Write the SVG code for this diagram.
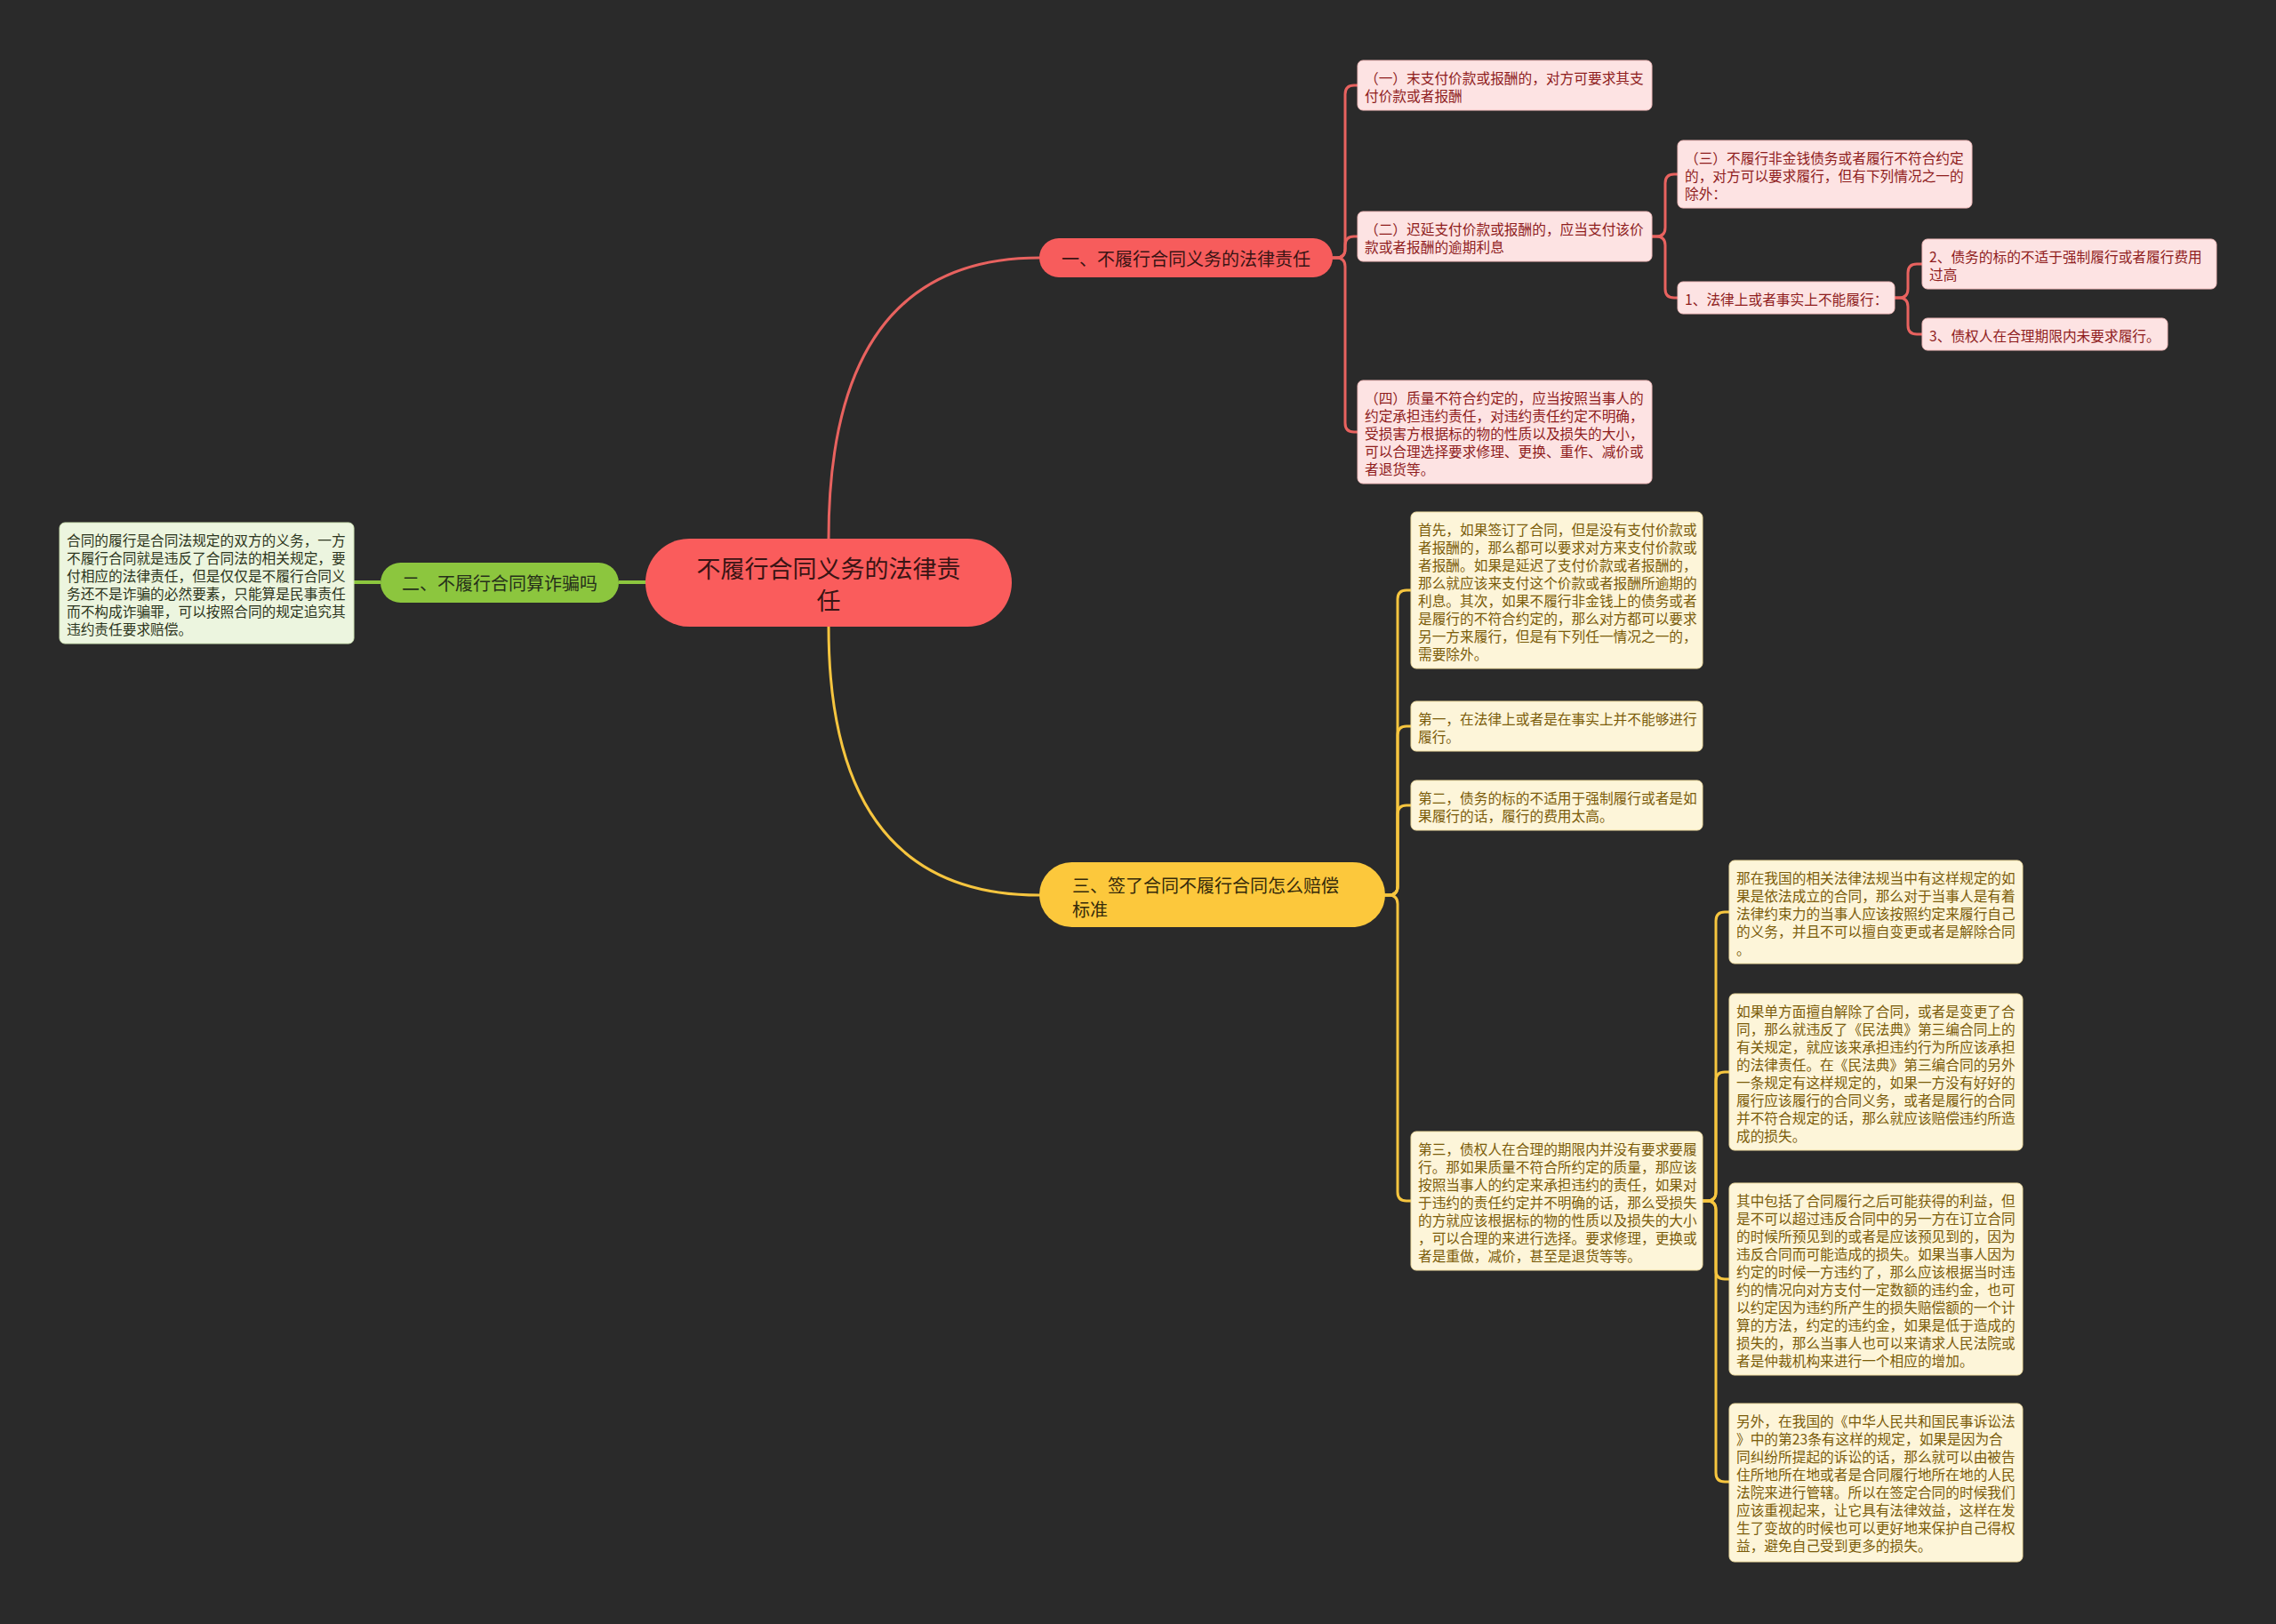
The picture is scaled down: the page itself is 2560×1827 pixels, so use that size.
<svg xmlns="http://www.w3.org/2000/svg" width="2560" height="1827" viewBox="0 0 2560 1827">
<style>
text{font-family:"Noto Sans CJK SC","Noto Sans",sans-serif;dominant-baseline:central}
.leaf{font-size:15.7px}
.rbox{fill:#fde3e3;stroke:#f3bcbc;stroke-width:1}
.rt{fill:#8f1d1d}
.ybox{fill:#fdf5d9;stroke:#efdca0;stroke-width:1}
.yt{fill:#7b5c0a}
.gbox{fill:#ecf5df;stroke:#cfe3b5;stroke-width:1}
.gt{fill:#2c3520}
.cr{fill:none;stroke:#e8625f;stroke-width:3;stroke-linecap:round}
.cy{fill:none;stroke:#f6c53f;stroke-width:3;stroke-linecap:round}
.cg{fill:none;stroke:#8cc63e;stroke-width:4}
.main{font-size:20px}
</style>
<rect x="0" y="0" width="2560" height="1827" fill="#2a2a2a"/>
<g id="connectors">
<path class="cr" d="M932 606 Q932 290 1169 290"/>
<path class="cy" d="M932 705 Q932 1007 1169 1007"/>
<path class="cg" d="M727 655 H696"/>
<path class="cg" d="M428 655 H398"/>
<path class="cr" d="M1499 290 H1503 Q1513 290 1513 280 V106 Q1513 96 1523 96 H1527"/>
<path class="cr" d="M1499 290 H1503 Q1513 290 1513 280 V276 Q1513 266 1523 266 H1527"/>
<path class="cr" d="M1499 290 H1503 Q1513 290 1513 300 V476 Q1513 486 1523 486 H1527"/>
<path class="cr" d="M1858 266 H1863 Q1873 266 1873 256 V206 Q1873 196 1883 196 H1887"/>
<path class="cr" d="M1858 266 H1863 Q1873 266 1873 276 V325 Q1873 335 1883 335 H1887"/>
<path class="cr" d="M2131 335 H2136 Q2146 335 2146 325 V307 Q2146 297 2156 297 H2162"/>
<path class="cr" d="M2131 335 H2136 Q2146 335 2146 345 V366 Q2146 376 2156 376 H2162"/>
<path class="cy" d="M1558 1007 H1562 Q1572 1007 1572 997 V674 Q1572 664 1582 664 H1587"/>
<path class="cy" d="M1558 1007 H1562 Q1572 1007 1572 997 V827 Q1572 817 1582 817 H1587"/>
<path class="cy" d="M1558 1007 H1562 Q1572 1007 1572 997 V916 Q1572 906 1582 906 H1587"/>
<path class="cy" d="M1558 1007 H1562 Q1572 1007 1572 1017 V1341 Q1572 1351 1582 1351 H1587"/>
<path class="cy" d="M1915 1351 H1920 Q1930 1351 1930 1341 V1036 Q1930 1026 1940 1026 H1945"/>
<path class="cy" d="M1915 1351 H1920 Q1930 1351 1930 1341 V1216 Q1930 1206 1940 1206 H1945"/>
<path class="cy" d="M1915 1351 H1920 Q1930 1351 1930 1361 V1429 Q1930 1439 1940 1439 H1945"/>
<path class="cy" d="M1915 1351 H1920 Q1930 1351 1930 1361 V1657 Q1930 1667 1940 1667 H1945"/>
</g>
<g id="root">
<rect x="726" y="606" width="412" height="99" rx="49.5" fill="#fa5c5c"/>
<text x="932" y="638" font-size="27" text-anchor="middle" fill="#3a1414">不履行合同义务的法律责</text>
<text x="932" y="674" font-size="27" text-anchor="middle" fill="#3a1414">任</text>
</g>
<g id="b1">
<rect x="1169" y="268" width="330" height="44" rx="22" fill="#f75c5c"/>
<text class="main" x="1334" y="290" text-anchor="middle" fill="#3a1414">一、不履行合同义务的法律责任</text>
</g>
<g id="b2">
<rect x="428" y="633" width="268" height="45" rx="22.5" fill="#8cc63e"/>
<text class="main" x="562" y="655.5" text-anchor="middle" fill="#26301a">二、不履行合同算诈骗吗</text>
</g>
<g id="b3">
<rect x="1169" y="970" width="389" height="73" rx="36.5" fill="#fcc83c"/>
<text class="main" x="1206" y="995" fill="#352a0a">三、签了合同不履行合同怎么赔偿</text>
<text class="main" x="1206" y="1022" fill="#352a0a">标准</text>
</g>
<g id="r1">
<rect class="rbox" x="1527" y="68" width="331" height="56" rx="6"/>
<text class="leaf rt" x="1535"><tspan x="1535" y="87">（一）末支付价款或报酬的，对方可要求其支</tspan><tspan x="1535" y="107">付价款或者报酬</tspan></text>
</g>
<g id="r2">
<rect class="rbox" x="1527" y="238" width="331" height="56" rx="6"/>
<text class="leaf rt"><tspan x="1535" y="257">（二）迟延支付价款或报酬的，应当支付该价</tspan><tspan x="1535" y="277">款或者报酬的逾期利息</tspan></text>
</g>
<g id="r4">
<rect class="rbox" x="1527" y="428" width="331" height="116" rx="6"/>
<text class="leaf rt"><tspan x="1535" y="447">（四）质量不符合约定的，应当按照当事人的</tspan><tspan x="1535" y="467">约定承担违约责任，对违约责任约定不明确，</tspan><tspan x="1535" y="487">受损害方根据标的物的性质以及损失的大小，</tspan><tspan x="1535" y="507">可以合理选择要求修理、更换、重作、减价或</tspan><tspan x="1535" y="527">者退货等。</tspan></text>
</g>
<g id="r3">
<rect class="rbox" x="1887" y="158" width="331" height="76" rx="6"/>
<text class="leaf rt"><tspan x="1895" y="177">（三）不履行非金钱债务或者履行不符合约定</tspan><tspan x="1895" y="197">的，对方可以要求履行，但有下列情况之一的</tspan><tspan x="1895" y="217">除外：</tspan></text>
</g>
<g id="r3a">
<rect class="rbox" x="1887" y="317" width="244" height="36" rx="6"/>
<text class="leaf rt" x="1895" y="336">1、法律上或者事实上不能履行：</text>
</g>
<g id="r3b">
<rect class="rbox" x="2162" y="269" width="331" height="56" rx="6"/>
<text class="leaf rt"><tspan x="2170" y="288">2、债务的标的不适于强制履行或者履行费用</tspan><tspan x="2170" y="308">过高</tspan></text>
</g>
<g id="r3c">
<rect class="rbox" x="2162" y="358" width="276" height="36" rx="6"/>
<text class="leaf rt" x="2170" y="377">3、债权人在合理期限内未要求履行。</text>
</g>
<g id="g1">
<rect class="gbox" x="67" y="588" width="331" height="136" rx="6"/>
<text class="leaf gt"><tspan x="75" y="607">合同的履行是合同法规定的双方的义务，一方</tspan><tspan x="75" y="627">不履行合同就是违反了合同法的相关规定，要</tspan><tspan x="75" y="647">付相应的法律责任，但是仅仅是不履行合同义</tspan><tspan x="75" y="667">务还不是诈骗的必然要素，只能算是民事责任</tspan><tspan x="75" y="687">而不构成诈骗罪，可以按照合同的规定追究其</tspan><tspan x="75" y="707">违约责任要求赔偿。</tspan></text>
</g>
<g id="y1">
<rect class="ybox" x="1587" y="576" width="328" height="176" rx="6"/>
<text class="leaf yt"><tspan x="1595" y="595">首先，如果签订了合同，但是没有支付价款或</tspan><tspan x="1595" y="615">者报酬的，那么都可以要求对方来支付价款或</tspan><tspan x="1595" y="635">者报酬。如果是延迟了支付价款或者报酬的，</tspan><tspan x="1595" y="655">那么就应该来支付这个价款或者报酬所逾期的</tspan><tspan x="1595" y="675">利息。其次，如果不履行非金钱上的债务或者</tspan><tspan x="1595" y="695">是履行的不符合约定的，那么对方都可以要求</tspan><tspan x="1595" y="715">另一方来履行，但是有下列任一情况之一的，</tspan><tspan x="1595" y="735">需要除外。</tspan></text>
</g>
<g id="y2">
<rect class="ybox" x="1587" y="789" width="328" height="56" rx="6"/>
<text class="leaf yt"><tspan x="1595" y="808">第一，在法律上或者是在事实上并不能够进行</tspan><tspan x="1595" y="828">履行。</tspan></text>
</g>
<g id="y3">
<rect class="ybox" x="1587" y="878" width="328" height="56" rx="6"/>
<text class="leaf yt"><tspan x="1595" y="897">第二，债务的标的不适用于强制履行或者是如</tspan><tspan x="1595" y="917">果履行的话，履行的费用太高。</tspan></text>
</g>
<g id="y4">
<rect class="ybox" x="1587" y="1273" width="328" height="156" rx="6"/>
<text class="leaf yt"><tspan x="1595" y="1292">第三，债权人在合理的期限内并没有要求要履</tspan><tspan x="1595" y="1312">行。那如果质量不符合所约定的质量，那应该</tspan><tspan x="1595" y="1332">按照当事人的约定来承担违约的责任，如果对</tspan><tspan x="1595" y="1352">于违约的责任约定并不明确的话，那么受损失</tspan><tspan x="1595" y="1372">的方就应该根据标的物的性质以及损失的大小</tspan><tspan x="1595" y="1392">，可以合理的来进行选择。要求修理，更换或</tspan><tspan x="1595" y="1412">者是重做，减价，甚至是退货等等。</tspan></text>
</g>
<g id="z1">
<rect class="ybox" x="1945" y="968" width="330" height="116" rx="6"/>
<text class="leaf yt"><tspan x="1953" y="987">那在我国的相关法律法规当中有这样规定的如</tspan><tspan x="1953" y="1007">果是依法成立的合同，那么对于当事人是有着</tspan><tspan x="1953" y="1027">法律约束力的当事人应该按照约定来履行自己</tspan><tspan x="1953" y="1047">的义务，并且不可以擅自变更或者是解除合同</tspan><tspan x="1953" y="1067">。</tspan></text>
</g>
<g id="z2">
<rect class="ybox" x="1945" y="1118" width="330" height="176" rx="6"/>
<text class="leaf yt"><tspan x="1953" y="1137">如果单方面擅自解除了合同，或者是变更了合</tspan><tspan x="1953" y="1157">同，那么就违反了《民法典》第三编合同上的</tspan><tspan x="1953" y="1177">有关规定，就应该来承担违约行为所应该承担</tspan><tspan x="1953" y="1197">的法律责任。在《民法典》第三编合同的另外</tspan><tspan x="1953" y="1217">一条规定有这样规定的，如果一方没有好好的</tspan><tspan x="1953" y="1237">履行应该履行的合同义务，或者是履行的合同</tspan><tspan x="1953" y="1257">并不符合规定的话，那么就应该赔偿违约所造</tspan><tspan x="1953" y="1277">成的损失。</tspan></text>
</g>
<g id="z3">
<rect class="ybox" x="1945" y="1331" width="330" height="216" rx="6"/>
<text class="leaf yt"><tspan x="1953" y="1350">其中包括了合同履行之后可能获得的利益，但</tspan><tspan x="1953" y="1370">是不可以超过违反合同中的另一方在订立合同</tspan><tspan x="1953" y="1390">的时候所预见到的或者是应该预见到的，因为</tspan><tspan x="1953" y="1410">违反合同而可能造成的损失。如果当事人因为</tspan><tspan x="1953" y="1430">约定的时候一方违约了，那么应该根据当时违</tspan><tspan x="1953" y="1450">约的情况向对方支付一定数额的违约金，也可</tspan><tspan x="1953" y="1470">以约定因为违约所产生的损失赔偿额的一个计</tspan><tspan x="1953" y="1490">算的方法，约定的违约金，如果是低于造成的</tspan><tspan x="1953" y="1510">损失的，那么当事人也可以来请求人民法院或</tspan><tspan x="1953" y="1530">者是仲裁机构来进行一个相应的增加。</tspan></text>
</g>
<g id="z4">
<rect class="ybox" x="1945" y="1579" width="330" height="178" rx="6"/>
<text class="leaf yt"><tspan x="1953" y="1598">另外，在我国的《中华人民共和国民事诉讼法</tspan><tspan x="1953" y="1618">》中的第23条有这样的规定，如果是因为合</tspan><tspan x="1953" y="1638">同纠纷所提起的诉讼的话，那么就可以由被告</tspan><tspan x="1953" y="1658">住所地所在地或者是合同履行地所在地的人民</tspan><tspan x="1953" y="1678">法院来进行管辖。所以在签定合同的时候我们</tspan><tspan x="1953" y="1698">应该重视起来，让它具有法律效益，这样在发</tspan><tspan x="1953" y="1718">生了变故的时候也可以更好地来保护自己得权</tspan><tspan x="1953" y="1738">益，避免自己受到更多的损失。</tspan></text>
</g>
</svg>
